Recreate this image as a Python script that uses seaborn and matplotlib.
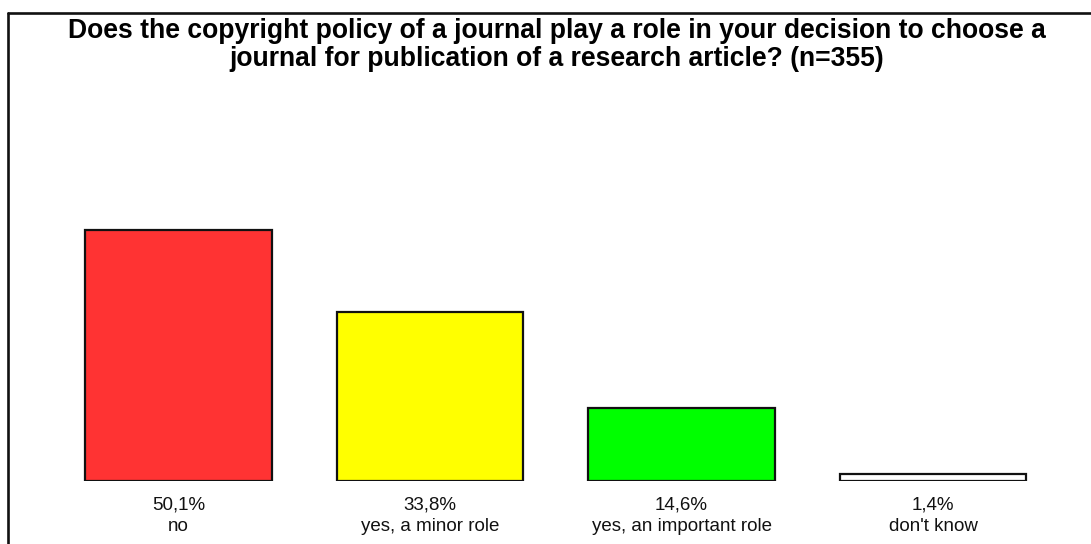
import matplotlib
matplotlib.use('Agg')
import matplotlib.pyplot as plt
from matplotlib.lines import Line2D
import seaborn as sns
import pandas as pd

categories = ['no', 'yes, a minor role', 'yes, an important role', "don't know"]
shares = [50.1, 33.8, 14.6, 1.4]
share_labels = ['50,1%', '33,8%', '14,6%', '1,4%']
bar_colors = ['#FF3333', '#FFFF00', '#00FF00', '#FFFFFF']
title = ('Does the copyright policy of a journal play a role in your decision to choose a\n'
         'journal for publication of a research article? (n=355)')

sns.set_theme(style='white')
plt.rcParams['font.family'] = ['Liberation Sans', 'DejaVu Sans']

df = pd.DataFrame({'answer': categories, 'share': shares})

fig = plt.figure(figsize=(10.91, 5.44), dpi=100)
ax = fig.add_axes([52.75 / 1091, 63 / 544, 1006 / 1091, 300.6 / 544])

sns.barplot(data=df, x='answer', y='share', hue='answer', palette=bar_colors,
            saturation=1, width=0.743, edgecolor='#111111', linewidth=1.6,
            legend=False, ax=ax)

ax.set_xlim(-0.5, 3.5)
ax.set_ylim(0, 60)
ax.set_xticks(range(len(categories)))
ax.set_xticklabels([f'{s}\n{c}' for s, c in zip(share_labels, categories)],
                   fontsize=13.5, color='#111111', linespacing=1.4)
ax.tick_params(axis='x', length=0, pad=11)
ax.set_yticks([])
ax.set_xlabel('')
ax.set_ylabel('')
for sp in ax.spines.values():
    sp.set_visible(False)

# outer frame (cut off at right and bottom)
fx = 7.5 / 1091
fy = 1 - 13 / 544
fig.add_artist(Line2D([fx, fx], [0, fy], transform=fig.transFigure, color='#111111', lw=1.9))
fig.add_artist(Line2D([fx, 1], [fy, fy], transform=fig.transFigure, color='#111111', lw=1.9))

fig.text(556.5 / 1091, 1 - 18 / 544, title, ha='center', va='top', fontsize=19.1,
         fontweight='bold', color='#000000', linespacing=1.08)

fig.savefig('out.png', dpi=100, facecolor='white')
